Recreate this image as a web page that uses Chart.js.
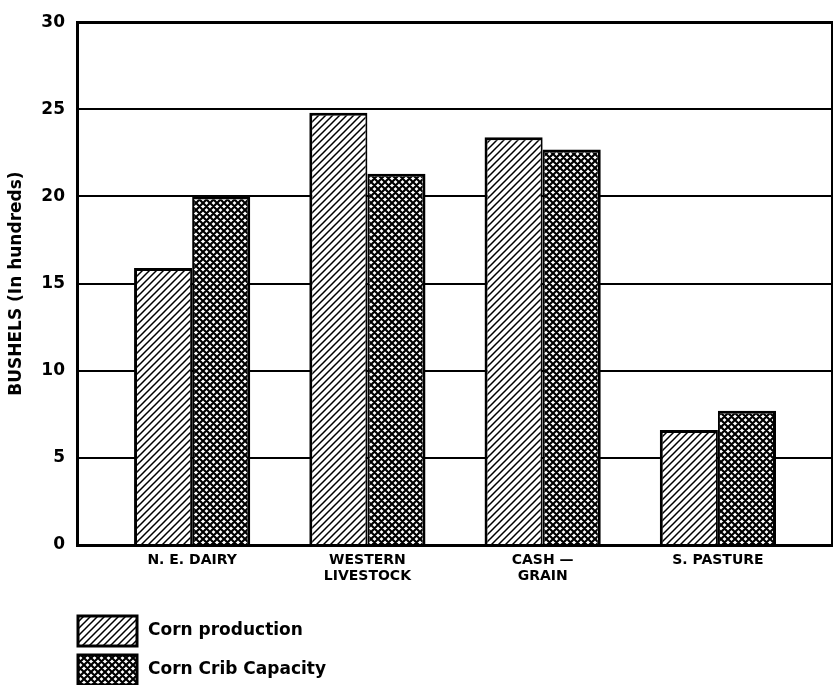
<!DOCTYPE html>
<html>
<head>
<meta charset="utf-8">
<script src="https://cdn.jsdelivr.net/npm/chart.js@4"></script>
<style>
  html, body { margin: 0; padding: 0; background: #fff; }
  #wrap { width: 833px; height: 685px; }
</style>
</head>
<body>
<div id="wrap"><canvas id="c" width="833" height="685"></canvas></div>
<script>
const categories = [['N. E. DAIRY'], ['WESTERN', 'LIVESTOCK'], ['CASH —', 'GRAIN'], ['S. PASTURE']];
const seriesNames = ['Corn production', 'Corn Crib Capacity'];
const cornProduction = [15.9, 24.8, 23.4, 6.6];
const cribCapacity = [20.0, 21.3, 22.7, 7.7];
const yTicks = [0, 5, 10, 15, 20, 25, 30];
const yTitle = 'BUSHELS (In hundreds)';

const canvas = document.getElementById('c');
const ctx = canvas.getContext('2d');

function hatchPattern() {
  const s = 7;
  const c = document.createElement('canvas');
  c.width = s; c.height = s;
  const g = c.getContext('2d');
  g.fillStyle = '#fff'; g.fillRect(0, 0, s, s);
  g.strokeStyle = '#000'; g.lineWidth = 1.5;
  g.beginPath();
  g.moveTo(-1, s + 1); g.lineTo(s + 1, -1);
  g.moveTo(-1, 1); g.lineTo(1, -1);
  g.moveTo(s - 1, s + 1); g.lineTo(s + 1, s - 1);
  g.stroke();
  return ctx.createPattern(c, 'repeat');
}
function crossPattern() {
  const s = 7;
  const c = document.createElement('canvas');
  c.width = s; c.height = s;
  const g = c.getContext('2d');
  g.fillStyle = '#fff'; g.fillRect(0, 0, s, s);
  g.strokeStyle = '#000'; g.lineWidth = 2.2;
  g.beginPath();
  g.moveTo(-1, s + 1); g.lineTo(s + 1, -1);
  g.moveTo(-1, 1); g.lineTo(1, -1);
  g.moveTo(s - 1, s + 1); g.lineTo(s + 1, s - 1);
  g.moveTo(-1, -1); g.lineTo(s + 1, s + 1);
  g.moveTo(-1, s - 1); g.lineTo(1, s + 1);
  g.moveTo(s - 1, -1); g.lineTo(s + 1, 1);
  g.stroke();
  return ctx.createPattern(c, 'repeat');
}

const FONT = "'DejaVu Sans', sans-serif";

const legendPlugin = {
  id: 'boxLegend',
  afterDraw(chart) {
    const g = chart.ctx;
    const area = chart.chartArea;
    chart.data.datasets.forEach((ds, i) => {
      const x = area.left + 1;
      const y = area.bottom + 71 + i * 39;
      g.save();
      g.fillStyle = ds.backgroundColor;
      g.fillRect(x, y, 59, 30);
      g.lineWidth = 3;
      g.strokeStyle = '#000';
      g.strokeRect(x, y, 59, 30);
      g.fillStyle = '#000';
      g.font = 'bold 17px ' + FONT;
      g.textBaseline = 'middle';
      g.textAlign = 'left';
      g.fillText(ds.label, x + 70, y + 15);
      g.restore();
    });
  }
};

new Chart(canvas, {
  type: 'bar',
  data: {
    datasets: [
      {
        label: seriesNames[0],
        data: cornProduction.map((v, i) => ({ x: i, y: v })),
        backgroundColor: hatchPattern(),
        borderColor: '#000',
        borderWidth: { left: 3, top: 3, right: 2, bottom: 0 },
        borderSkipped: false
      },
      {
        label: seriesNames[1],
        data: cribCapacity.map((v, i) => ({ x: i, y: v })),
        backgroundColor: crossPattern(),
        borderColor: '#000',
        borderWidth: { left: 2, top: 3, right: 3, bottom: 0 },
        borderSkipped: false
      }
    ]
  },
  options: {
    responsive: false,
    animation: false,
    devicePixelRatio: 1,
    categoryPercentage: 0.663,
    barPercentage: 1,
    layout: { padding: { top: 13, right: 0, bottom: 90, left: 0 } },
    plugins: {
      legend: { display: false },
      tooltip: { enabled: false }
    },
    scales: {
      x: {
        type: 'linear',
        offset: false,
        min: -0.657,
        max: 3.651,
        afterBuildTicks: axis => { axis.ticks = categories.map((_, i) => ({ value: i })); },
        afterFit: axis => { axis.height = 50; },
        grid: { display: false, drawTicks: false },
        border: { display: true, color: '#000', width: 3, z: 1 },
        ticks: {
          autoSkip: false,
          maxRotation: 0,
          padding: 7,
          color: '#000',
          font: { family: FONT, size: 14, weight: 'bold', lineHeight: 1.15 },
          callback: v => categories[v]
        }
      },
      y: {
        min: 0,
        max: 30,
        afterBuildTicks: axis => { axis.ticks = yTicks.map(v => ({ value: v })); },
        afterFit: axis => { axis.width = 77; },
        grid: {
          color: '#000',
          lineWidth: c => (c.tick && c.tick.value === 30 ? 3 : 2),
          drawTicks: false
        },
        border: { display: true, color: '#000', width: 3 },
        ticks: {
          padding: 12,
          color: '#000',
          font: { family: FONT, size: 17, weight: 'bold' }
        },
        title: {
          display: true,
          text: yTitle,
          color: '#000',
          padding: { top: 6, bottom: 0 },
          font: { family: FONT, size: 17, weight: 'bold' }
        }
      },
      yRight: {
        position: 'right',
        min: 0,
        max: 30,
        afterFit: axis => { axis.width = 1; },
        grid: { display: false, drawTicks: false },
        ticks: { display: false },
        border: { display: true, color: '#000', width: 3 }
      }
    }
  },
  plugins: [legendPlugin]
});
</script>
</body>
</html>
